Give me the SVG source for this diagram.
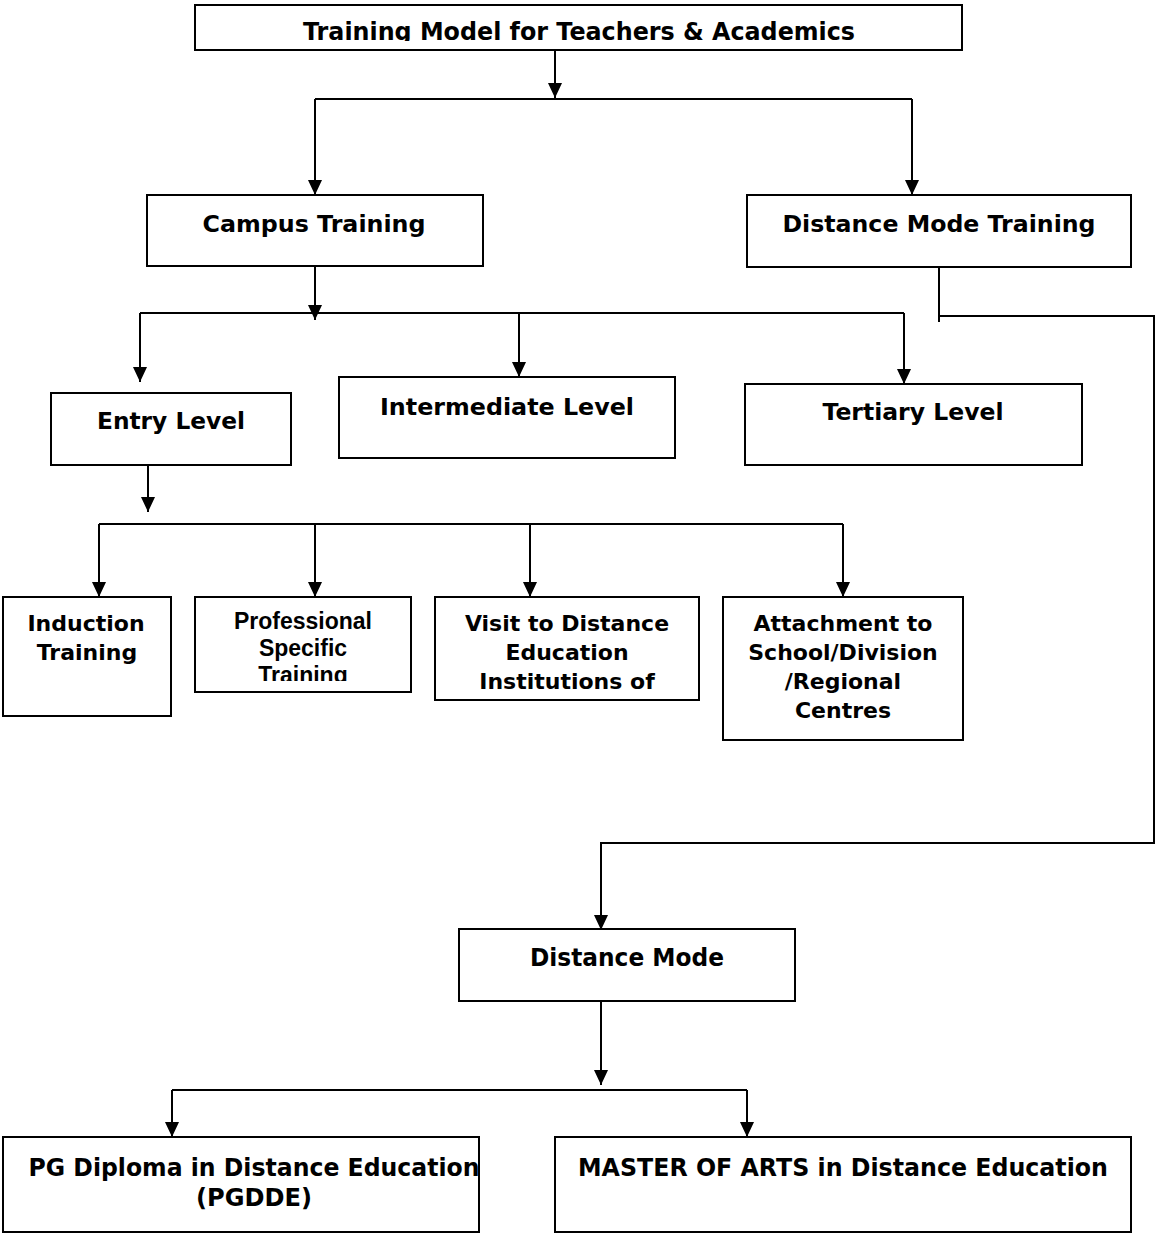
<svg xmlns="http://www.w3.org/2000/svg" width="1155" height="1235" viewBox="0 0 1155 1235">
<style>
.box{fill:#fff;stroke:#000;stroke-width:2}
.ln{fill:none;stroke:#000;stroke-width:2}
.arr{fill:none;stroke:#000;stroke-width:2;marker-end:url(#ah)}
.v{font-family:"DejaVu Sans",Verdana,sans-serif;font-weight:bold;font-size:23px;fill:#000;text-anchor:middle}
.c{font-family:"DejaVu Sans",Verdana,sans-serif;font-weight:bold;font-size:25px;fill:#000;text-anchor:middle}
.vs{font-family:"DejaVu Sans",Verdana,sans-serif;font-weight:bold;font-size:22px;fill:#000;text-anchor:middle}
.a{font-family:"Liberation Sans",Arial,sans-serif;font-weight:bold;font-size:23px;fill:#000;text-anchor:middle}
</style>
<defs>
<marker id="ah" markerUnits="userSpaceOnUse" markerWidth="16" markerHeight="16" refX="15" refY="7" orient="auto" viewBox="0 0 16 14">
<path d="M0,0 L15,7 L0,14 z" fill="#000"/>
</marker>
<clipPath id="c1"><rect x="195" y="5" width="767" height="36"/></clipPath>
<clipPath id="c2"><rect x="195" y="597" width="216" height="84"/></clipPath>
</defs>
<rect width="1155" height="1235" fill="#fff"/>
<g id="connectors">
<path class="arr" d="M555,50 V98"/>
<path class="ln" d="M315,99 H912"/>
<path class="arr" d="M315,99 V195"/>
<path class="arr" d="M912,99 V195"/>
<path class="arr" d="M315,266 V320"/>
<path class="ln" d="M140,313 H904"/>
<path class="arr" d="M140,313 V382"/>
<path class="arr" d="M519,313 V377"/>
<path class="arr" d="M904,313 V384"/>
<path class="arr" d="M148,465 V512"/>
<path class="ln" d="M99,524 H843"/>
<path class="arr" d="M99,524 V597"/>
<path class="arr" d="M315,524 V597"/>
<path class="arr" d="M530,524 V597"/>
<path class="arr" d="M843,524 V597"/>
<path class="ln" d="M939,267 V322"/>
<path class="arr" d="M939,316 H1154 V843 H601 V930"/>
<path class="arr" d="M601,1001 V1085"/>
<path class="ln" d="M172,1090 H747"/>
<path class="arr" d="M172,1090 V1137"/>
<path class="arr" d="M747,1090 V1137"/>
</g>
<g id="title">
<rect class="box" x="195" y="5" width="767" height="45"/>
<text class="c" x="579" y="40" font-size="26" textLength="552" lengthAdjust="spacingAndGlyphs" clip-path="url(#c1)">Training Model for Teachers &amp; Academics</text>
</g>
<g id="campus">
<rect class="box" x="147" y="195" width="336" height="71"/>
<text class="v" x="314" y="232" textLength="223" lengthAdjust="spacingAndGlyphs">Campus Training</text>
</g>
<g id="distance-training">
<rect class="box" x="747" y="195" width="384" height="72"/>
<text class="v" x="939" y="232" textLength="313" lengthAdjust="spacingAndGlyphs">Distance Mode Training</text>
</g>
<g id="entry">
<rect class="box" x="51" y="393" width="240" height="72"/>
<text class="v" x="171" y="429" textLength="148" lengthAdjust="spacingAndGlyphs">Entry Level</text>
</g>
<g id="intermediate">
<rect class="box" x="339" y="377" width="336" height="81"/>
<text class="v" x="507" y="415" textLength="254" lengthAdjust="spacingAndGlyphs">Intermediate Level</text>
</g>
<g id="tertiary">
<rect class="box" x="745" y="384" width="337" height="81"/>
<text class="v" x="913" y="420" textLength="181" lengthAdjust="spacingAndGlyphs">Tertiary Level</text>
</g>
<g id="induction">
<rect class="box" x="3" y="597" width="168" height="119"/>
<text class="vs" x="86" y="631">Induction</text>
<text class="vs" x="87" y="660">Training</text>
</g>
<g id="professional">
<rect class="box" x="195" y="597" width="216" height="95"/>
<g clip-path="url(#c2)">
<text class="a" x="303" y="629">Professional</text>
<text class="a" x="303" y="656">Specific</text>
<text class="a" x="303" y="683">Training</text>
</g>
</g>
<g id="visit">
<rect class="box" x="435" y="597" width="264" height="103"/>
<text class="vs" x="567" y="631">Visit to Distance</text>
<text class="vs" x="567" y="660">Education</text>
<text class="vs" x="567" y="689">Institutions of</text>
</g>
<g id="attachment">
<rect class="box" x="723" y="597" width="240" height="143"/>
<text class="vs" x="843" y="631">Attachment to</text>
<text class="vs" x="843" y="660">School/Division</text>
<text class="vs" x="843" y="689">/Regional</text>
<text class="vs" x="843" y="718">Centres</text>
</g>
<g id="distance-mode">
<rect class="box" x="459" y="929" width="336" height="72"/>
<text class="c" x="627" y="966" textLength="194" lengthAdjust="spacingAndGlyphs">Distance Mode</text>
</g>
<g id="pgdde">
<rect class="box" x="3" y="1137" width="476" height="95"/>
<text class="c" x="254" y="1176" textLength="451" lengthAdjust="spacingAndGlyphs">PG Diploma in Distance Education</text>
<text class="c" x="254" y="1206" textLength="116" lengthAdjust="spacingAndGlyphs">(PGDDE)</text>
</g>
<g id="master">
<rect class="box" x="555" y="1137" width="576" height="95"/>
<text class="c" x="843" y="1176" textLength="530" lengthAdjust="spacingAndGlyphs">MASTER OF ARTS in Distance Education</text>
</g>
</svg>
